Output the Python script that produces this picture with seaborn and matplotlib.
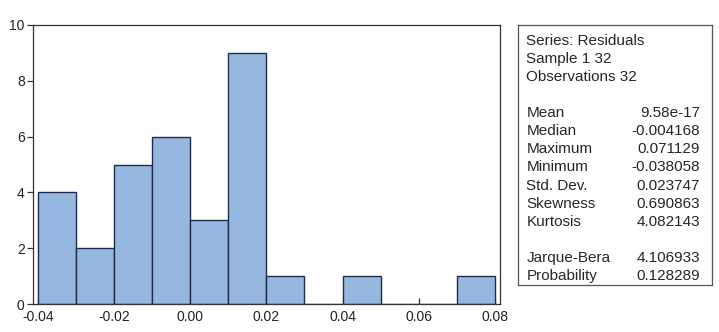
import numpy as np
import pandas as pd
import matplotlib
matplotlib.use("Agg")
import matplotlib.pyplot as plt
import seaborn as sns

# histogram of residuals (bin edges and counts)
bin_edges = [-0.04, -0.03, -0.02, -0.01, 0.00, 0.01, 0.02, 0.03, 0.04, 0.05, 0.06, 0.07, 0.08]
counts = [4, 2, 5, 6, 3, 9, 1, 0, 1, 0, 0, 1]
x_ticks = [-0.04, -0.02, 0.00, 0.02, 0.04, 0.06, 0.08]
y_ticks = [0, 2, 4, 6, 8, 10]

header_lines = ["Series: Residuals", "Sample 1 32", "Observations 32"]
stat_names = ["Mean", "Median", "Maximum", "Minimum", "Std. Dev.", "Skewness", "Kurtosis"]
stat_values = ["9.58e-17", "-0.004168", "0.071129", "-0.038058", "0.023747", "0.690863", "4.082143"]
test_names = ["Jarque-Bera", "Probability"]
test_values = ["4.106933", "0.128289"]

sns.set_style("white")
plt.rcParams["font.family"] = ["Liberation Sans", "DejaVu Sans"]

centers = [(a + b) / 2 for a, b in zip(bin_edges[:-1], bin_edges[1:])]
df = pd.DataFrame({"resid": centers, "n": counts})

fig = plt.figure(figsize=(7.19, 3.32), dpi=100)
ax = fig.add_axes([0.046, 0.084, 0.649, 0.841])
sns.histplot(data=df, x="resid", weights="n", bins=bin_edges, ax=ax,
             color="#95b7e0", edgecolor="#1f2d4d", linewidth=1.0, alpha=1.0)
ax.set_xlim(-0.0413, 0.0813)
ax.set_ylim(0, 10)
ax.set_xticks(x_ticks)
ax.set_xticklabels([f"{t:.2f}" for t in x_ticks])
ax.set_yticks(y_ticks)
ax.set_xlabel("")
ax.set_ylabel("")
for s in ax.spines.values():
    s.set_color("#333333")
    s.set_linewidth(0.9)
ax.tick_params(axis="x", bottom=True, direction="in", length=4, width=0.9,
               labelsize=10, pad=4, colors="#333333", labelcolor="#222222")
ax.tick_params(axis="y", left=True, direction="out", length=4, width=0.9,
               labelsize=10, pad=2, colors="#333333", labelcolor="#222222")

# stats box
bax = fig.add_axes([0.720, 0.142, 0.270, 0.783])
bax.set_xticks([])
bax.set_yticks([])
for s in bax.spines.values():
    s.set_color("#555555")
    s.set_linewidth(0.9)

fs = 11
x0 = 0.045
x1 = 0.94
top = 0.965
step = 0.0695
y = top
for line in header_lines:
    bax.text(x0, y, line, fontsize=fs, va="top", ha="left", transform=bax.transAxes)
    y -= step
y -= step
for n, v in zip(stat_names, stat_values):
    bax.text(x0, y, n, fontsize=fs, va="top", ha="left", transform=bax.transAxes)
    bax.text(x1, y, v, fontsize=fs, va="top", ha="right", transform=bax.transAxes)
    y -= step
y -= step
for n, v in zip(test_names, test_values):
    bax.text(x0, y, n, fontsize=fs, va="top", ha="left", transform=bax.transAxes)
    bax.text(x1, y, v, fontsize=fs, va="top", ha="right", transform=bax.transAxes)
    y -= step

fig.savefig("out.png", dpi=100)
